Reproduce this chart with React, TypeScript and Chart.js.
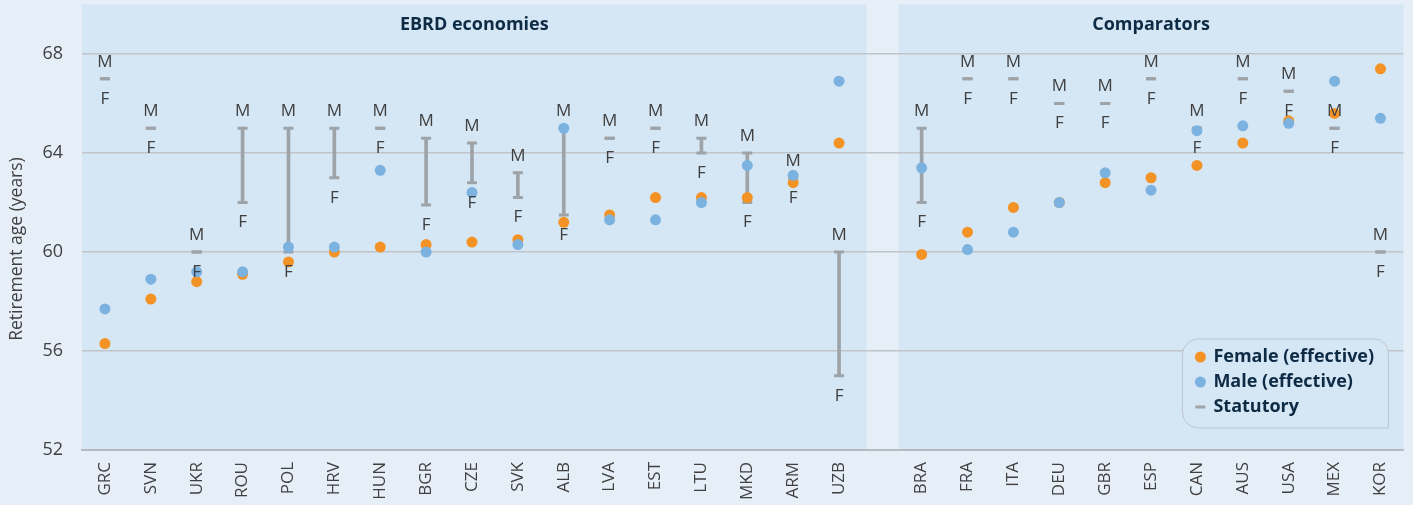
import React, { useEffect, useRef } from 'react';
import { Chart, registerables } from 'chart.js';

Chart.register(...registerables);

// ---------- data ----------
const ebrdCountries = ['GRC', 'SVN', 'UKR', 'ROU', 'POL', 'HRV', 'HUN', 'BGR', 'CZE', 'SVK', 'ALB', 'LVA', 'EST', 'LTU', 'MKD', 'ARM', 'UZB'];
const comparatorCountries = ['BRA', 'FRA', 'ITA', 'DEU', 'GBR', 'ESP', 'CAN', 'AUS', 'USA', 'MEX', 'KOR'];

const femaleEffective = [56.3, 58.1, 58.8, 59.1, 59.6, 60.0, 60.2, 60.3, 60.4, 60.5, 61.2, 61.5, 62.2, 62.2, 62.2, 62.8, 64.4,
  59.9, 60.8, 61.8, 62.0, 62.8, 63.0, 63.5, 64.4, 65.3, 65.6, 67.4];
const maleEffective = [57.7, 58.9, 59.2, 59.2, 60.2, 60.2, 63.3, 60.0, 62.4, 60.3, 65.0, 61.3, 61.3, 62.0, 63.5, 63.1, 66.9,
  63.4, 60.1, 60.8, 62.0, 63.2, 62.5, 64.9, 65.1, 65.2, 66.9, 65.4];
const statutoryMale = [67, 65, 60, 65, 65, 65, 65, 64.6, 64.4, 63.2, 65, 64.6, 65, 64.6, 64, 63, 60,
  65, 67, 67, 66, 66, 67, 65, 67, 66.5, 65, 60];
const statutoryFemale = [67, 65, 60, 62, 60, 63, 65, 61.9, 62.8, 62.2, 61.5, 64.6, 65, 64.0, 62, 63, 55,
  62, 67, 67, 66, 66, 67, 65, 67, 66.5, 65, 60];

const yTicks = [52, 56, 60, 64, 68];
const panelTitles = ['EBRD economies', 'Comparators'];
const legendLabels = ['Female (effective)', 'Male (effective)', 'Statutory'];
const yAxisTitle = 'Retirement age (years)';

// ---------- layout / style ----------
const GAP = 0.8; // extra space between the two panels, in category units
const PANEL_TOP_VALUE = 70;
const FONT = "'Open Sans', 'Noto Sans', sans-serif";
const OUTER_BG = '#e6eef8';
const PANEL_BG = '#d5e6f4';
const ORANGE = '#f49325';
const BLUE = '#7cb2e0';
const GREY = '#9ea3a8';
const NAVY = '#0e2b45';
const TEXT = '#404040';

const countries = [...ebrdCountries, ...comparatorCountries];
const xPos = countries.map((_, i) => (i < ebrdCountries.length ? i : i + GAP));
const panels = [
  { title: panelTitles[0], from: xPos[0] - 0.5, to: xPos[ebrdCountries.length - 1] + 0.6 },
  { title: panelTitles[1], from: xPos[ebrdCountries.length] - 0.5, to: xPos[countries.length - 1] + 0.5 },
];

const decorPlugin = {
  id: 'decor',
  beforeDraw(chart: any) {
    const { ctx, chartArea, scales } = chart;
    const xs = scales.x;
    const ys = scales.y;
    const top = ys.getPixelForValue(PANEL_TOP_VALUE);
    ctx.save();
    panels.forEach((p) => {
      const x0 = xs.getPixelForValue(p.from);
      const x1 = Math.min(xs.getPixelForValue(p.to), chartArea.right);
      ctx.fillStyle = PANEL_BG;
      ctx.fillRect(x0, top, x1 - x0, chartArea.bottom - top);
      ctx.fillStyle = NAVY;
      ctx.font = `bold 18px ${FONT}`;
      ctx.textAlign = 'center';
      ctx.textBaseline = 'middle';
      ctx.fillText(p.title, (x0 + x1) / 2, top + 20);
    });
    // y-axis title
    const yc = (ys.getPixelForValue(yTicks[0]) + ys.getPixelForValue(yTicks[yTicks.length - 1])) / 2 - 3;
    ctx.translate(17, yc);
    ctx.rotate(-Math.PI / 2);
    ctx.fillStyle = TEXT;
    ctx.font = `17.5px ${FONT}`;
    ctx.textAlign = 'center';
    ctx.textBaseline = 'middle';
    ctx.fillText(yAxisTitle, 0, 0);
    ctx.restore();
  },
  afterDatasetsDraw(chart: any) {
    const { ctx, chartArea, scales } = chart;
    const xs = scales.x;
    const ys = scales.y;
    ctx.save();
    ctx.fillStyle = TEXT;
    ctx.font = `17px ${FONT}`;
    ctx.textAlign = 'center';
    ctx.textBaseline = 'middle';
    countries.forEach((_, i) => {
      const px = xs.getPixelForValue(xPos[i]);
      ctx.fillText('M', px, ys.getPixelForValue(statutoryMale[i]) - 17);
      ctx.fillText('F', px, ys.getPixelForValue(statutoryFemale[i]) + 20);
    });

    // legend
    const w = 206;
    const h = 89;
    const right = chartArea.right - 15;
    const bottom = chartArea.bottom - 22;
    const left = right - w;
    const topL = bottom - h;
    ctx.beginPath();
    (ctx as any).roundRect(left, topL, w, h, [16, 14, 0, 16]);
    ctx.fillStyle = PANEL_BG;
    ctx.fill();
    ctx.strokeStyle = '#bfc6ce';
    ctx.lineWidth = 1;
    ctx.stroke();
    const mx = left + 18;
    const tx = left + 31;
    const rows = [topL + 18, topL + 43, topL + 68];
    ctx.fillStyle = ORANGE;
    ctx.beginPath();
    ctx.arc(mx, rows[0], 5.5, 0, Math.PI * 2);
    ctx.fill();
    ctx.fillStyle = BLUE;
    ctx.beginPath();
    ctx.arc(mx, rows[1], 5.5, 0, Math.PI * 2);
    ctx.fill();
    ctx.strokeStyle = GREY;
    ctx.lineWidth = 3;
    ctx.beginPath();
    ctx.moveTo(mx - 5, rows[2]);
    ctx.lineTo(mx + 5, rows[2]);
    ctx.stroke();
    ctx.fillStyle = NAVY;
    ctx.font = `bold 18px ${FONT}`;
    ctx.textAlign = 'left';
    ctx.textBaseline = 'middle';
    legendLabels.forEach((l, i) => ctx.fillText(l, tx, rows[i]));
    ctx.restore();
  },
};

export default function App() {
  const canvasRef = useRef<HTMLCanvasElement | null>(null);

  useEffect(() => {
    if (!canvasRef.current) return;
    const chart = new Chart(canvasRef.current, {
      type: 'scatter',
      data: {
        datasets: [
          {
            label: legendLabels[1],
            data: xPos.map((x, i) => ({ x, y: maleEffective[i] })),
            backgroundColor: BLUE,
            borderWidth: 0,
            pointRadius: 5.5,
          },
          {
            label: legendLabels[0],
            data: xPos.map((x, i) => ({ x, y: femaleEffective[i] })),
            backgroundColor: ORANGE,
            borderWidth: 0,
            pointRadius: 5.5,
          },
          {
            label: 'Statutory (male)',
            data: xPos.map((x, i) => ({ x, y: statutoryMale[i] })),
            pointStyle: 'line',
            pointRadius: 5,
            borderColor: GREY,
            borderWidth: 3,
          },
          {
            label: 'Statutory (female)',
            data: xPos.map((x, i) => ({ x, y: statutoryFemale[i] })),
            pointStyle: 'line',
            pointRadius: 5,
            borderColor: GREY,
            borderWidth: 3,
          },
          {
            type: 'bar',
            label: legendLabels[2],
            data: xPos.map((x, i) => ({ x, y: [statutoryFemale[i], statutoryMale[i]] })) as any,
            backgroundColor: GREY,
            borderWidth: 0,
            barThickness: 3,
          } as any,
        ],
      },
      options: {
        animation: false,
        responsive: false,
        events: [],
        layout: { padding: { top: 54, right: 5, left: 0, bottom: 0 } },
        plugins: {
          legend: { display: false },
          tooltip: { enabled: false },
        },
        scales: {
          x: {
            type: 'linear',
            offset: false,
            min: -0.5,
            max: xPos[xPos.length - 1] + 0.5,
            grid: { display: false, drawTicks: false, offset: false },
            border: { display: true, color: '#b7bbc0', width: 2 },
            afterBuildTicks: (s: any) => {
              s.ticks = xPos.map((v) => ({ value: v }));
            },
            afterFit: (s: any) => {
              s.height = 55;
            },
            ticks: {
              autoSkip: false,
              minRotation: 90,
              maxRotation: 90,
              padding: 12,
              color: TEXT,
              font: { family: FONT, size: 17 },
              callback: (_v: any, i: number) => countries[i] ?? '',
            },
          },
          y: {
            min: 52,
            max: 68,
            afterBuildTicks: (s: any) => {
              s.ticks = yTicks.map((v) => ({ value: v }));
            },
            afterFit: (s: any) => {
              s.width = 82;
            },
            grid: { color: '#c0c4c9', lineWidth: 1.5, drawTicks: true, tickLength: 16, tickColor: 'rgba(0,0,0,0)' },
            border: { display: false },
            ticks: {
              padding: 3,
              color: TEXT,
              font: { family: FONT, size: 18 },
            },
          },
        },
      },
      plugins: [decorPlugin],
    });
    return () => chart.destroy();
  }, []);

  return (
    <div style={{ position: 'absolute', left: 0, top: 0, width: 1413, height: 505, background: OUTER_BG }}>
      <canvas ref={canvasRef} width={1413} height={505} style={{ display: 'block' }} />
    </div>
  );
}
